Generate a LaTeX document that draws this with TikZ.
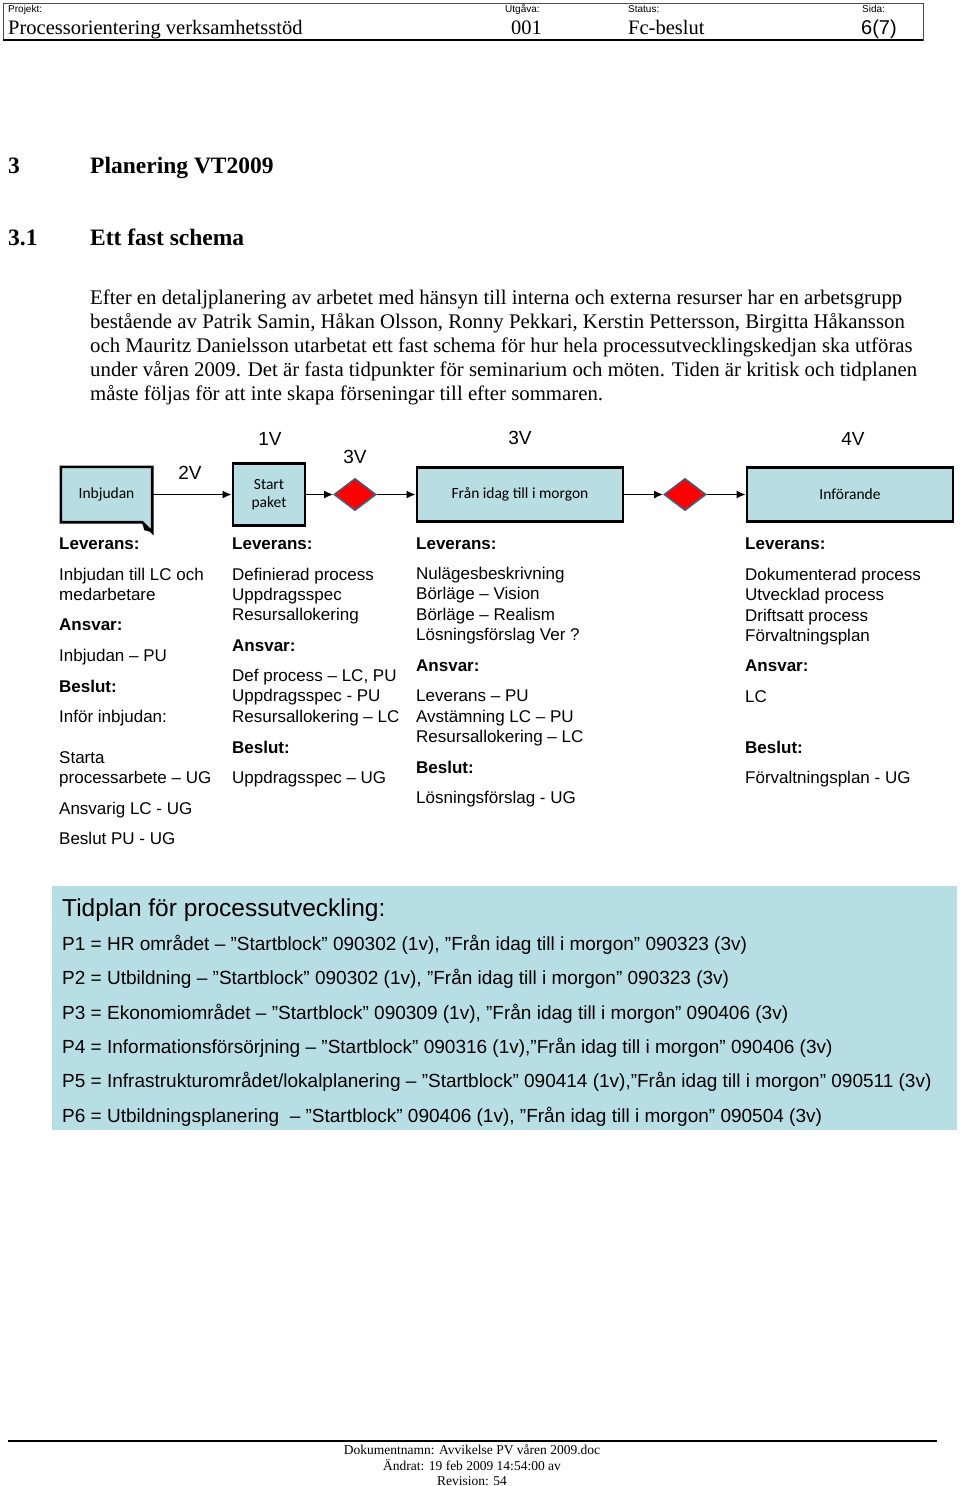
\documentclass[tikz,border=0pt]{standalone}
\usepackage{fontspec}
\setmainfont{Liberation Serif}
\setsansfont{Liberation Sans}
\newfontfamily\calibri{Carlito}
\usetikzlibrary{shapes.geometric,arrows.meta}
\definecolor{boxblue}{RGB}{184,222,227}
\definecolor{tidblue}{RGB}{183,222,228}
\definecolor{dmdedge}{RGB}{74,90,122}
\begin{document}
\begin{tikzpicture}[x=1pt,y=-1pt,
  proc/.style={draw=black, line width=2.6pt, fill=boxblue, font=\calibri\fontsize{15.5}{18}\selectfont, align=center, inner sep=0pt},
  dec/.style={diamond, draw=dmdedge, line width=1.6pt, fill=red, minimum width=42pt, minimum height=32pt, inner sep=0pt},
  flow/.style={-{Latex[length=9pt,width=8pt]}, line width=1.6pt},
  vlab/.style={font=\sffamily\fontsize{19}{22}\selectfont, inner sep=0pt},
  col/.style={font=\sffamily\fontsize{17}{20}\selectfont, anchor=base west, inner sep=0pt},
  colb/.style={col, font=\sffamily\bfseries\fontsize{17}{20}\selectfont},
  hsmall/.style={font=\sffamily\fontsize{10}{12}\selectfont, anchor=base west, inner sep=0pt},
  hbig/.style={font=\fontsize{20.5}{24}\selectfont, anchor=base west, inner sep=0pt},
  head/.style={font=\bfseries\fontsize{23.5}{28}\selectfont, anchor=base west, inner sep=0pt},
  para/.style={font=\fontsize{20.8}{24}\selectfont, anchor=base west, inner sep=0pt},
  tidl/.style={font=\sffamily\fontsize{19}{22}\selectfont, anchor=base west, inner sep=0pt},
  foot/.style={font=\fontsize{13.5}{15}\selectfont, anchor=base, inner sep=0pt}
]
\useasboundingbox[fill=white] (0,0) rectangle (960,1486);

% ---- header
\draw[line width=0.8pt, draw=black!70] (3,3) rectangle (923,40);
\draw[line width=1.5pt] (3,40) -- (923,40);
\node[hsmall] (hp) at (8,12) {Projekt:};
\node[hsmall] (hu) at (505,12) {Utgåva:};
\node[hsmall] (hs) at (628,12) {Status:};
\node[hsmall] (hsi) at (862,12) {Sida:};
\node[hbig] (hpv) at (8,34) {Processorientering verksamhetsstöd};
\node[hbig] (huv) at (511,34) {001};
\node[hbig] (hsv) at (628,34) {Fc-beslut};
\node[hbig, font=\sffamily\fontsize{20}{24}\selectfont] (hsiv) at (861,34) {6(7)};

% ---- headings
\node[head] (h3n) at (8,173) {3};
\node[head] (h3) at (90,173) {Planering VT2009};
\node[head] (h31n) at (8,245) {3.1};
\node[head] (h31) at (90,245) {Ett fast schema};

% ---- paragraph
\node[para] (p1) at (90,304) {Efter en detaljplanering av arbetet med hänsyn till interna och externa resurser har en arbetsgrupp};
\node[para] (p2) at (90,328) {bestående av Patrik Samin, Håkan Olsson, Ronny Pekkari, Kerstin Pettersson, Birgitta Håkansson};
\node[para] (p3) at (90,352) {och Mauritz Danielsson utarbetat ett fast schema för hur hela processutvecklingskedjan ska utföras};
\node[para] (p4) at (90,376) {under våren 2009. Det är fasta tidpunkter för seminarium och möten. Tiden är kritisk och tidplanen};
\node[para] (p5) at (90,400) {måste följas för att inte skapa förseningar till efter sommaren.};

% ---- process flow
\node[minimum width=91pt, minimum height=55pt, inner sep=0pt] (inb) at (106.5,494.5) {};
\draw[line width=2.6pt, fill=boxblue, line join=miter]
  (inb.north west) -- (inb.north east) -- ([yshift=-10pt]inb.south east) -- ([xshift=-10pt]inb.south east) -- (inb.south west) -- cycle;
\fill[black] ([yshift=-10pt]inb.south east) -- ([xshift=-10pt]inb.south east) -- ([xshift=-8pt,yshift=-8pt]inb.south east) -- cycle;
\node[font=\calibri\fontsize{15.5}{18}\selectfont, inner sep=0pt] (inbt) at (inb) {Inbjudan};

\node[proc, minimum width=72pt, minimum height=62pt] (start) at (269,494.5) {Start\\paket};
\node[dec] (d1) at (355,494.5) {};
\node[proc, minimum width=206pt, minimum height=54pt] (fran) at (520,494.5) {Från idag till i morgon};
\node[dec] (d2) at (685,494.5) {};
\node[proc, minimum width=206pt, minimum height=54pt] (inf) at (850,494.5) {Införande};

\draw[flow] (inb) -- (start);
\draw[flow] (start) -- (d1);
\draw[flow] (d1) -- (fran);
\draw[flow] (fran) -- (d2);
\draw[flow] (d2) -- (inf);

\node[vlab] (l2v) at (190,473) {2V};
\node[vlab] (l1v) at (270,439) {1V};
\node[vlab] (l3va) at (355,457) {3V};
\node[vlab] (l3vb) at (520,438) {3V};
\node[vlab] (l4v) at (853,439) {4V};

% ---- column 1
\node[colb] at (59,549) {Leverans:};
\node[col] at (59,580) {Inbjudan till LC och};
\node[col] at (59,600) {medarbetare};
\node[colb] at (59,630) {Ansvar:};
\node[col] at (59,661) {Inbjudan -- PU};
\node[colb] at (59,692) {Beslut:};
\node[col] at (59,722) {Inför inbjudan:};
\node[col] at (59,763) {Starta};
\node[col] at (59,783) {processarbete -- UG};
\node[col] at (59,814) {Ansvarig LC - UG};
\node[col] at (59,844) {Beslut PU - UG};

% ---- column 2
\node[colb] at (232,549) {Leverans:};
\node[col] at (232,580) {Definierad process};
\node[col] at (232,600) {Uppdragsspec};
\node[col] at (232,620) {Resursallokering};
\node[colb] at (232,651) {Ansvar:};
\node[col] at (232,681) {Def process -- LC, PU};
\node[col] at (232,701) {Uppdragsspec - PU};
\node[col] at (232,722) {Resursallokering -- LC};
\node[colb] at (232,753) {Beslut:};
\node[col] at (232,783) {Uppdragsspec -- UG};

% ---- column 3
\node[colb] at (416,549) {Leverans:};
\node[col] at (416,579) {Nulägesbeskrivning};
\node[col] at (416,599) {Börläge -- Vision};
\node[col] at (416,620) {Börläge -- Realism};
\node[col] at (416,640) {Lösningsförslag Ver ?};
\node[colb] at (416,671) {Ansvar:};
\node[col] at (416,701) {Leverans -- PU};
\node[col] at (416,722) {Avstämning LC -- PU};
\node[col] at (416,742) {Resursallokering -- LC};
\node[colb] at (416,773) {Beslut:};
\node[col] at (416,803) {Lösningsförslag - UG};

% ---- column 4
\node[colb] at (745,549) {Leverans:};
\node[col] at (745,580) {Dokumenterad process};
\node[col] at (745,600) {Utvecklad process};
\node[col] at (745,621) {Driftsatt process};
\node[col] at (745,641) {Förvaltningsplan};
\node[colb] at (745,671) {Ansvar:};
\node[col] at (745,702) {LC};
\node[colb] at (745,753) {Beslut:};
\node[col] at (745,783) {Förvaltningsplan - UG};

% ---- tidplan box
\fill[tidblue] (52,886) rectangle (957,1130);
\node[tidl, font=\sffamily\fontsize{24.5}{28}\selectfont] (tt) at (62,916) {Tidplan för processutveckling:};
\node[tidl] (t1) at (62,950) {P1 = HR området -- ”Startblock” 090302 (1v), ”Från idag till i morgon” 090323 (3v)};
\node[tidl] (t2) at (62,984) {P2 = Utbildning -- ”Startblock” 090302 (1v), ”Från idag till i morgon” 090323 (3v)};
\node[tidl] (t3) at (62,1019) {P3 = Ekonomiområdet -- ”Startblock” 090309 (1v), ”Från idag till i morgon” 090406 (3v)};
\node[tidl] (t4) at (62,1053) {P4 = Informationsförsörjning -- ”Startblock” 090316 (1v),”Från idag till i morgon” 090406 (3v)};
\node[tidl] (t5) at (62,1087) {P5 = Infrastrukturområdet/lokalplanering -- ”Startblock” 090414 (1v),”Från idag till i morgon” 090511 (3v)};
\node[tidl] (t6) at (62,1122) {P6 = Utbildningsplanering~ -- ”Startblock” 090406 (1v), ”Från idag till i morgon” 090504 (3v)};

% ---- footer
\draw[line width=2pt] (8,1441) -- (937,1441);
\node[foot] (f1) at (472,1454) {Dokumentnamn: Avvikelse PV våren 2009.doc};
\node[foot] (f2) at (472,1470) {Ändrat: 19 feb 2009 14:54:00 av};
\node[foot] (f3) at (472,1485) {Revision: 54};
\end{tikzpicture}
\end{document}
